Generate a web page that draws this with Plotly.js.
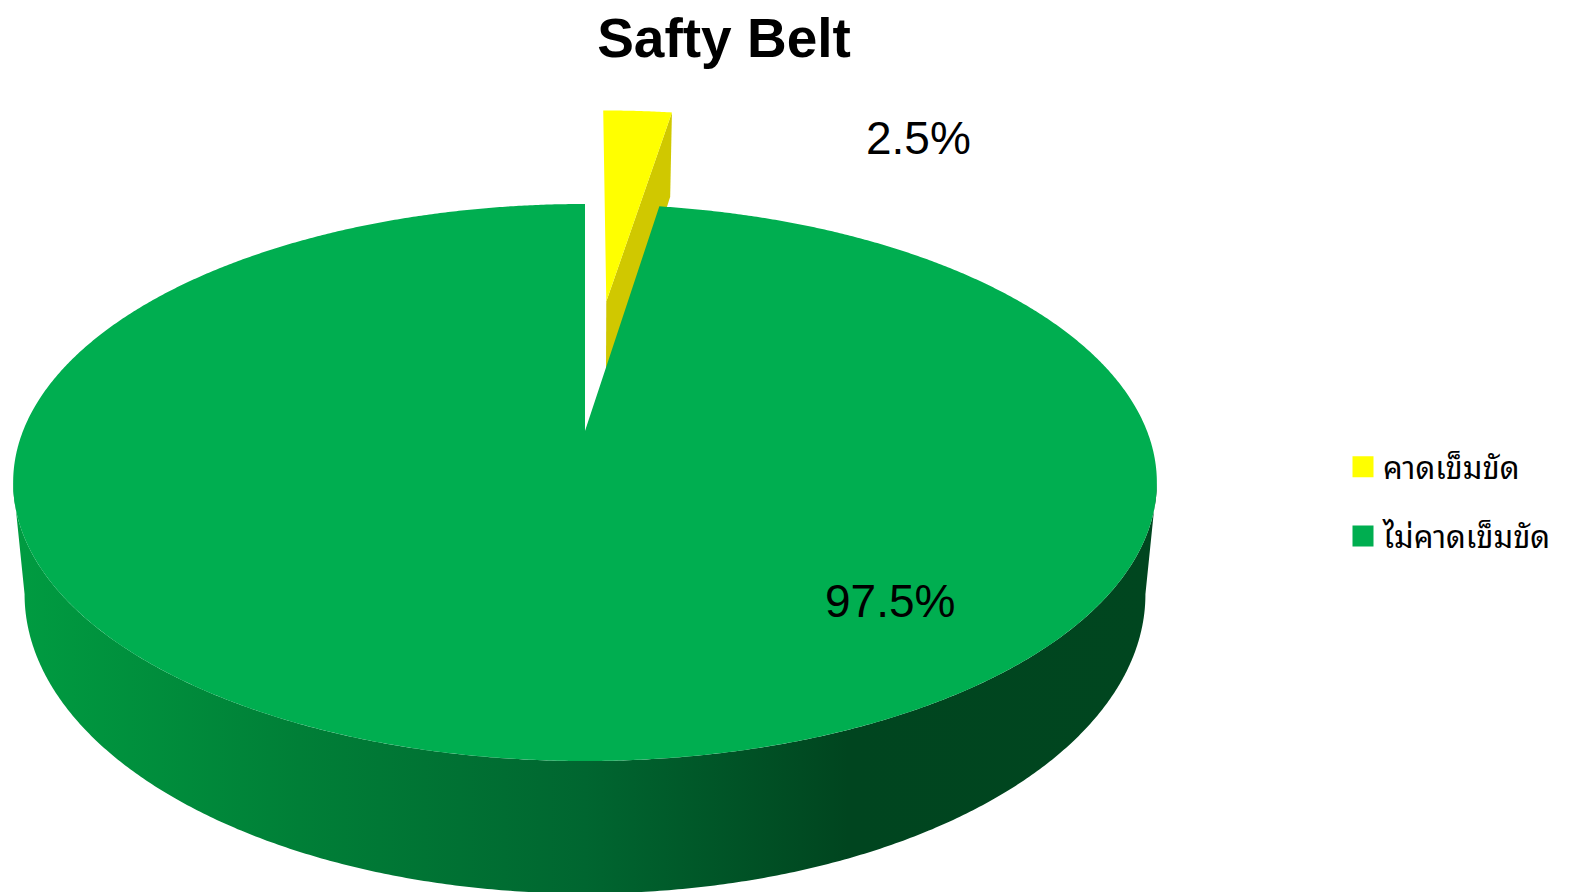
<!DOCTYPE html>
<html>
<head>
<meta charset="utf-8">
<script src="https://cdn.plot.ly/plotly-3.0.1.min.js"></script>
<style>html,body{margin:0;padding:0;background:#fff;}#chart{width:1571px;height:892px;}</style>
</head>
<body>
<div id="chart"></div>
<script>
// ---- data ----
const chartTitle = 'Safty Belt';
const categories = ['คาดเข็มขัด', 'ไม่คาดเข็มขัด'];
const values = [2.5, 97.5];

// ---- style ----
const topColors = ['#ffff00', '#00ae50'];
const sideColors = ['#d0c800', '#009a40'];
const thaiFont = '"Noto Sans Thai Looped", "Noto Serif Thai", Loma, Garuda, Norasi, "Tlwg Typo", "Noto Sans Thai", "Noto Sans", sans-serif';

// projection parameters (pixel space of the figure)
const P = {cx: 585, cy: 431, a: 562, b: 269, k: 0.1849, h: 108, s: 0.98};
const explode = [0.53, 0];

function proj(X, Z, bottom) {
  const den = 1 + P.k * Z;
  const sc = bottom ? P.s : 1;
  return [P.cx + sc * P.a * X / den, P.cy - P.b * Z / den + (bottom ? P.h / den : 0)];
}

// slice angles, clockwise from 12 o'clock (phi in degrees)
const total = values.reduce((a, b) => a + b, 0);
const slices = [];
let acc = 0;
values.forEach((v, i) => {
  const start = acc / total * 360;
  acc += v;
  const end = acc / total * 360;
  slices.push({start, end, mid: (start + end) / 2});
});
const rad = d => d * Math.PI / 180;

function topPolygon(i) {
  const sl = slices[i], e = explode[i];
  const ox = e * Math.sin(rad(sl.mid)), oz = e * Math.cos(rad(sl.mid));
  const xs = [], ys = [];
  let p = proj(ox, oz, false); xs.push(p[0]); ys.push(p[1]);
  const n = Math.max(8, Math.round((sl.end - sl.start) * 3));
  for (let j = 0; j <= n; j++) {
    const phi = rad(sl.start + (sl.end - sl.start) * j / n);
    p = proj(ox + Math.sin(phi), oz + Math.cos(phi), false);
    xs.push(p[0]); ys.push(p[1]);
  }
  xs.push(xs[0]); ys.push(ys[0]);
  return {xs, ys};
}

function radialWall(i, phiDeg) {
  const sl = slices[i], e = explode[i];
  const ox = e * Math.sin(rad(sl.mid)), oz = e * Math.cos(rad(sl.mid));
  const phi = rad(phiDeg);
  const pts = [proj(ox, oz, false), proj(ox + Math.sin(phi), oz + Math.cos(phi), false),
               proj(ox + Math.sin(phi), oz + Math.cos(phi), true), proj(ox, oz, true)];
  pts.push(pts[0]);
  return {xs: pts.map(p => p[0]), ys: pts.map(p => p[1])};
}

function frontWall(i) {
  // outer curved wall between the silhouette extremes (phi measured clockwise from top)
  const sl = slices[i];
  const as = Math.asin(P.k) * 180 / Math.PI;
  const lo = Math.max(sl.start, 90 + as), hi = Math.min(sl.end, 270 - as);
  const xs = [], ys = [];
  const n = 400;
  for (let j = 0; j <= n; j++) {
    const phi = rad(lo + (hi - lo) * j / n);
    const p = proj(Math.sin(phi), Math.cos(phi), false);
    xs.push(p[0]); ys.push(p[1]);
  }
  for (let j = n; j >= 0; j--) {
    const phi = rad(lo + (hi - lo) * j / n);
    const p = proj(Math.sin(phi), Math.cos(phi), true);
    xs.push(p[0]); ys.push(p[1]);
  }
  xs.push(xs[0]); ys.push(ys[0]);
  return {xs, ys};
}

const traces = [];
// yellow (exploded) slice: side wall then top
const yw = radialWall(0, slices[0].end);
traces.push({x: yw.xs, y: yw.ys, mode: 'lines', fill: 'toself', fillcolor: sideColors[0],
  line: {width: 0, color: sideColors[0], simplify: false}, showlegend: false, hoverinfo: 'skip'});
const yt = topPolygon(0);
traces.push({x: yt.xs, y: yt.ys, mode: 'lines', fill: 'toself', fillcolor: topColors[0],
  line: {width: 0, color: topColors[0], simplify: false}, showlegend: false, hoverinfo: 'skip'});
// green slice: front wall with gradient, then top
const gw = frontWall(1);
traces.push({x: gw.xs, y: gw.ys, mode: 'lines', fill: 'toself',
  fillgradient: {type: 'horizontal', colorscale: [[0, '#009c41'], [0.25, '#007f37'], [0.5, '#006630'], [0.73, '#00451f'], [1, '#00461f']]},
  line: {width: 0, color: sideColors[1], simplify: false}, showlegend: false, hoverinfo: 'skip'});
const gt = topPolygon(1);
traces.push({x: gt.xs, y: gt.ys, mode: 'lines', fill: 'toself', fillcolor: topColors[1],
  line: {width: 0, color: topColors[1], simplify: false}, showlegend: false, hoverinfo: 'skip'});

// legend entries
categories.forEach((c, i) => {
  traces.push({x: [null], y: [null], mode: 'markers', name: c, legendgroup: 'g' + i,
    marker: {symbol: 'square', size: 24, color: topColors[i], line: {width: 8, color: topColors[i]}}, showlegend: true});
});

const labelPos = [[918, 138], [890, 601]];
const annotations = values.map((v, i) => ({
  x: labelPos[i][0], y: labelPos[i][1], xref: 'x', yref: 'y', showarrow: false,
  text: v.toFixed(1) + '%', font: {family: '"Liberation Sans", Arial, sans-serif', size: 46, color: '#000'},
  xanchor: 'center', yanchor: 'middle'
}));

const layout = {
  width: 1571, height: 892,
  margin: {l: 0, r: 0, t: 0, b: 0},
  paper_bgcolor: '#fff', plot_bgcolor: '#fff',
  title: {text: '<b>' + chartTitle + '</b>', x: 724 / 1571, xanchor: 'center', xref: 'paper',
    y: 1 - 38 / 892, yanchor: 'middle', yref: 'container',
    font: {family: '"Liberation Sans", Arial, sans-serif', size: 55, color: '#000'}},
  xaxis: {range: [0, 1571], visible: false, fixedrange: true},
  yaxis: {range: [892, 0], visible: false, fixedrange: true},
  showlegend: true,
  legend: {x: 1343 / 1571, xanchor: 'left', y: 1 - 440 / 892, yanchor: 'top',
    font: {family: thaiFont, size: 31, color: '#000'}, tracegroupgap: 26,
    bgcolor: 'rgba(0,0,0,0)'},
  annotations: annotations
};

Plotly.newPlot('chart', traces, layout, {displayModeBar: false, staticPlot: true});
</script>
</body>
</html>
